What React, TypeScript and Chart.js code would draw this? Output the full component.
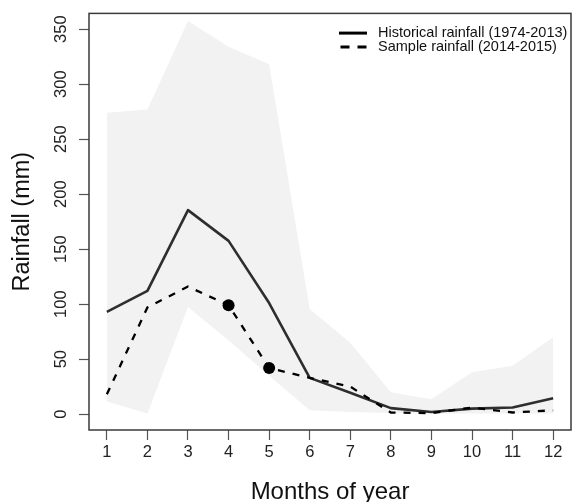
import React, { useEffect, useRef } from 'react';
import { Chart, registerables } from 'chart.js';

Chart.register(...registerables);

const months = [1, 2, 3, 4, 5, 6, 7, 8, 9, 10, 11, 12];
const historicalRainfall = [93, 112, 185.5, 157.5, 101, 33, 19.5, 5.5, 2, 5, 6, 14.5];
const sampleRainfall = [18, 97, 116, 99, 42, 33, 25, 1.5, 1, 6, 1.5, 3.5];
const bandUpper = [274, 277, 357.5, 334, 318, 95.5, 65, 20, 13.5, 38, 44, 70];
const bandLower = [11.5, 0.5, 97.5, 67, 35, 3.5, 2, 1, 0.5, 0.5, 0.5, 0.5];
const dotMonths = [4, 5];
const dotValues = [99, 42];
const yTicks = [0, 50, 100, 150, 200, 250, 300, 350];

const FONT = '"Liberation Sans", Arial, sans-serif';
const TEXT = '#222';

const toPoints = (xs: number[], ys: number[]) => xs.map((x, i) => ({ x, y: ys[i] }));

const framePlugin = {
  id: 'frame',
  afterDraw(chart: any) {
    const { ctx, chartArea: a } = chart;
    ctx.save();
    ctx.strokeStyle = '#3a3a3a';
    ctx.lineWidth = 1.5;
    ctx.setLineDash([]);
    ctx.strokeRect(a.left, a.top, a.right - a.left, a.bottom - a.top);
    ctx.restore();
  },
};

const insetLegendPlugin = {
  id: 'insetLegend',
  afterDraw(chart: any) {
    const { ctx, chartArea: a } = chart;
    const items = chart.data.datasets.filter((d: any) => d.inLegend);
    ctx.save();
    ctx.font = `14.5px ${FONT}`;
    ctx.textBaseline = 'middle';
    ctx.textAlign = 'left';
    items.forEach((d: any, i: number) => {
      const y = a.top + 19.7 + i * 14;
      const textX = a.right - 193;
      ctx.strokeStyle = '#000';
      ctx.lineWidth = 3;
      const dashed = !!d.borderDash;
      ctx.setLineDash(dashed ? [9, 8] : []);
      ctx.beginPath();
      ctx.moveTo(textX - (dashed ? 37.5 : 39), y);
      ctx.lineTo(textX - 11, y);
      ctx.stroke();
      ctx.setLineDash([]);
      ctx.fillStyle = '#111';
      ctx.fillText(d.label, textX, y);
    });
    ctx.restore();
  },
};

export default function App() {
  const ref = useRef<HTMLCanvasElement>(null);

  useEffect(() => {
    const gridOpts = {
      display: true,
      drawOnChartArea: false,
      drawTicks: true,
      tickLength: 10,
      tickColor: '#555',
      tickWidth: 1.2,
      color: '#555',
    };
    const chart = new Chart(ref.current as HTMLCanvasElement, {
      type: 'line',
      data: {
        datasets: [
          {
            label: 'Historical rainfall (1974-2013)',
            inLegend: true,
            data: toPoints(months, historicalRainfall),
            borderColor: '#2e2e2e',
            borderWidth: 2.6,
            borderJoinStyle: 'round',
            pointRadius: 0,
            fill: false,
            tension: 0,
            order: 2,
          } as any,
          {
            label: 'Sample rainfall (2014-2015)',
            inLegend: true,
            data: toPoints(months, sampleRainfall),
            borderColor: '#000',
            borderWidth: 2.3,
            borderDash: [7, 8],
            pointRadius: 0,
            fill: false,
            tension: 0,
            order: 1,
          } as any,
          {
            label: 'Sample points',
            data: toPoints(dotMonths, dotValues),
            showLine: false,
            pointRadius: 6,
            pointBackgroundColor: '#000',
            pointBorderColor: '#000',
            pointBorderWidth: 0,
            order: 0,
          } as any,
          {
            label: 'Range upper',
            data: toPoints(months, bandUpper),
            borderWidth: 0,
            borderColor: 'rgba(0,0,0,0)',
            backgroundColor: '#f2f2f2',
            pointRadius: 0,
            fill: '+1',
            tension: 0,
            order: 10,
          } as any,
          {
            label: 'Range lower',
            data: toPoints(months, bandLower),
            borderWidth: 0,
            borderColor: 'rgba(0,0,0,0)',
            pointRadius: 0,
            fill: false,
            tension: 0,
            order: 11,
          } as any,
        ],
      },
      options: {
        responsive: false,
        animation: false,
        devicePixelRatio: 1,
        layout: { padding: { left: 0, top: 10, right: 4, bottom: 0 } },
        plugins: {
          legend: { display: false },
          tooltip: { enabled: false },
          filler: { propagate: false },
        },
        scales: {
          x: {
            type: 'linear',
            min: 0.56,
            max: 12.44,
            afterBuildTicks: (s: any) => {
              s.ticks = months.map((v) => ({ value: v }));
            },
            afterFit: (s: any) => {
              s.height = 72;
            },
            grid: gridOpts,
            border: { display: false },
            ticks: {
              font: { family: FONT, size: 16.5 },
              color: TEXT,
              padding: 2.8,
              maxRotation: 0,
              autoSkip: false,
            },
            title: {
              display: true,
              text: 'Months of year',
              color: '#111',
              font: { family: FONT, size: 24, lineHeight: 0.6 },
              padding: { top: 0, bottom: 2.5 },
            },
          },
          y: {
            type: 'linear',
            min: -14.4,
            max: 364.3,
            afterBuildTicks: (s: any) => {
              s.ticks = yTicks.map((v) => ({ value: v }));
            },
            afterFit: (s: any) => {
              s.width = 89;
            },
            grid: gridOpts,
            border: { display: false },
            ticks: {
              font: { family: FONT, size: 16.5 },
              color: TEXT,
              padding: 3.5,
              minRotation: 90,
              maxRotation: 90,
              crossAlign: 'center',
              autoSkip: false,
            },
            title: {
              display: true,
              text: 'Rainfall (mm)',
              color: '#111',
              font: { family: FONT, size: 23.5 },
              padding: { top: 8, bottom: 0 },
            },
          },
        },
      } as any,
      plugins: [framePlugin, insetLegendPlugin],
    });
    return () => chart.destroy();
  }, []);

  return (
    <canvas
      ref={ref}
      width={577}
      height={502}
      style={{ position: 'absolute', left: 0, top: 0, width: 577, height: 502, display: 'block' }}
    />
  );
}
